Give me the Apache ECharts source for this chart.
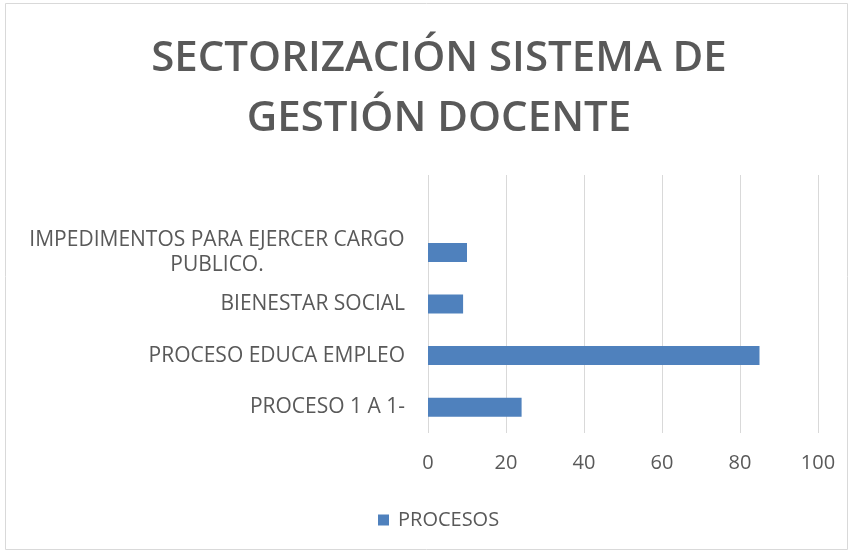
<!DOCTYPE html>
<html><head><meta charset="utf-8">
<script src="https://cdn.jsdelivr.net/npm/echarts@6/dist/echarts.min.js"></script>
<style>html,body{margin:0;padding:0;background:#fff}#c{width:853px;height:553px}</style>
</head><body><div id="c"></div>
<script>
var titleText = 'SECTORIZACIÓN SISTEMA DE\nGESTIÓN DOCENTE';
var categories = ['PROCESO 1 A 1-', 'PROCESO EDUCA EMPLEO', 'BIENESTAR SOCIAL', 'IMPEDIMENTOS PARA EJERCER CARGO\nPUBLICO.', ''];
var seriesName = 'PROCESOS';
var values = [24, 85, 9, 10, null];
var xTicks = [0, 20, 40, 60, 80, 100];

var chart = echarts.init(document.getElementById('c'));
var font = "'Open Sans', 'Noto Sans', sans-serif";
chart.setOption({
  animation: false,
  title: {
    text: titleText, left: 434, textAlign: 'center', top: 24,
    textStyle: { fontFamily: font, fontSize: 42, fontWeight: 600, color: '#595959', lineHeight: 60 }
  },
  graphic: [{ type: 'rect', shape: { x: 5.5, y: 3.5, width: 842, height: 546 }, style: { fill: 'none', stroke: '#d9d9d9', lineWidth: 1 }, silent: true }],
  legend: {
    data: [seriesName], top: 505, left: 373, itemWidth: 11, itemHeight: 11, icon: 'rect', itemGap: 8,
    textStyle: { fontFamily: font, fontSize: 20, color: '#595959', padding: [0, 0, 0, 4] }
  },
  grid: { left: 428, right: 35, top: 175, bottom: 120 },
  xAxis: {
    type: 'value', min: xTicks[0], max: xTicks[xTicks.length - 1], interval: 20,
    axisLine: { show: false }, axisTick: { show: false },
    splitLine: { lineStyle: { color: '#d9d9d9', width: 1 } },
    axisLabel: { fontFamily: font, fontSize: 20, color: '#595959', margin: 20 }
  },
  yAxis: {
    type: 'category', data: categories,
    axisLine: { show: false }, axisTick: { show: false },
    axisLabel: {
      fontFamily: font, fontSize: 21, color: '#595959', margin: 23, lineHeight: 25,
      formatter: function (v) {
        if (v.indexOf('\n') >= 0) {
          return v.split('\n').map(function (s) { return '{c|' + s + '}'; }).join('\n');
        }
        return v;
      },
      rich: { c: { width: 376, align: 'center', fontFamily: font, fontSize: 21, color: '#595959', lineHeight: 25 } }
    }
  },
  series: [{
    name: seriesName, type: 'bar', data: values, barWidth: 19,
    itemStyle: { color: '#4f81bd' }
  }]
});
</script></body></html>
